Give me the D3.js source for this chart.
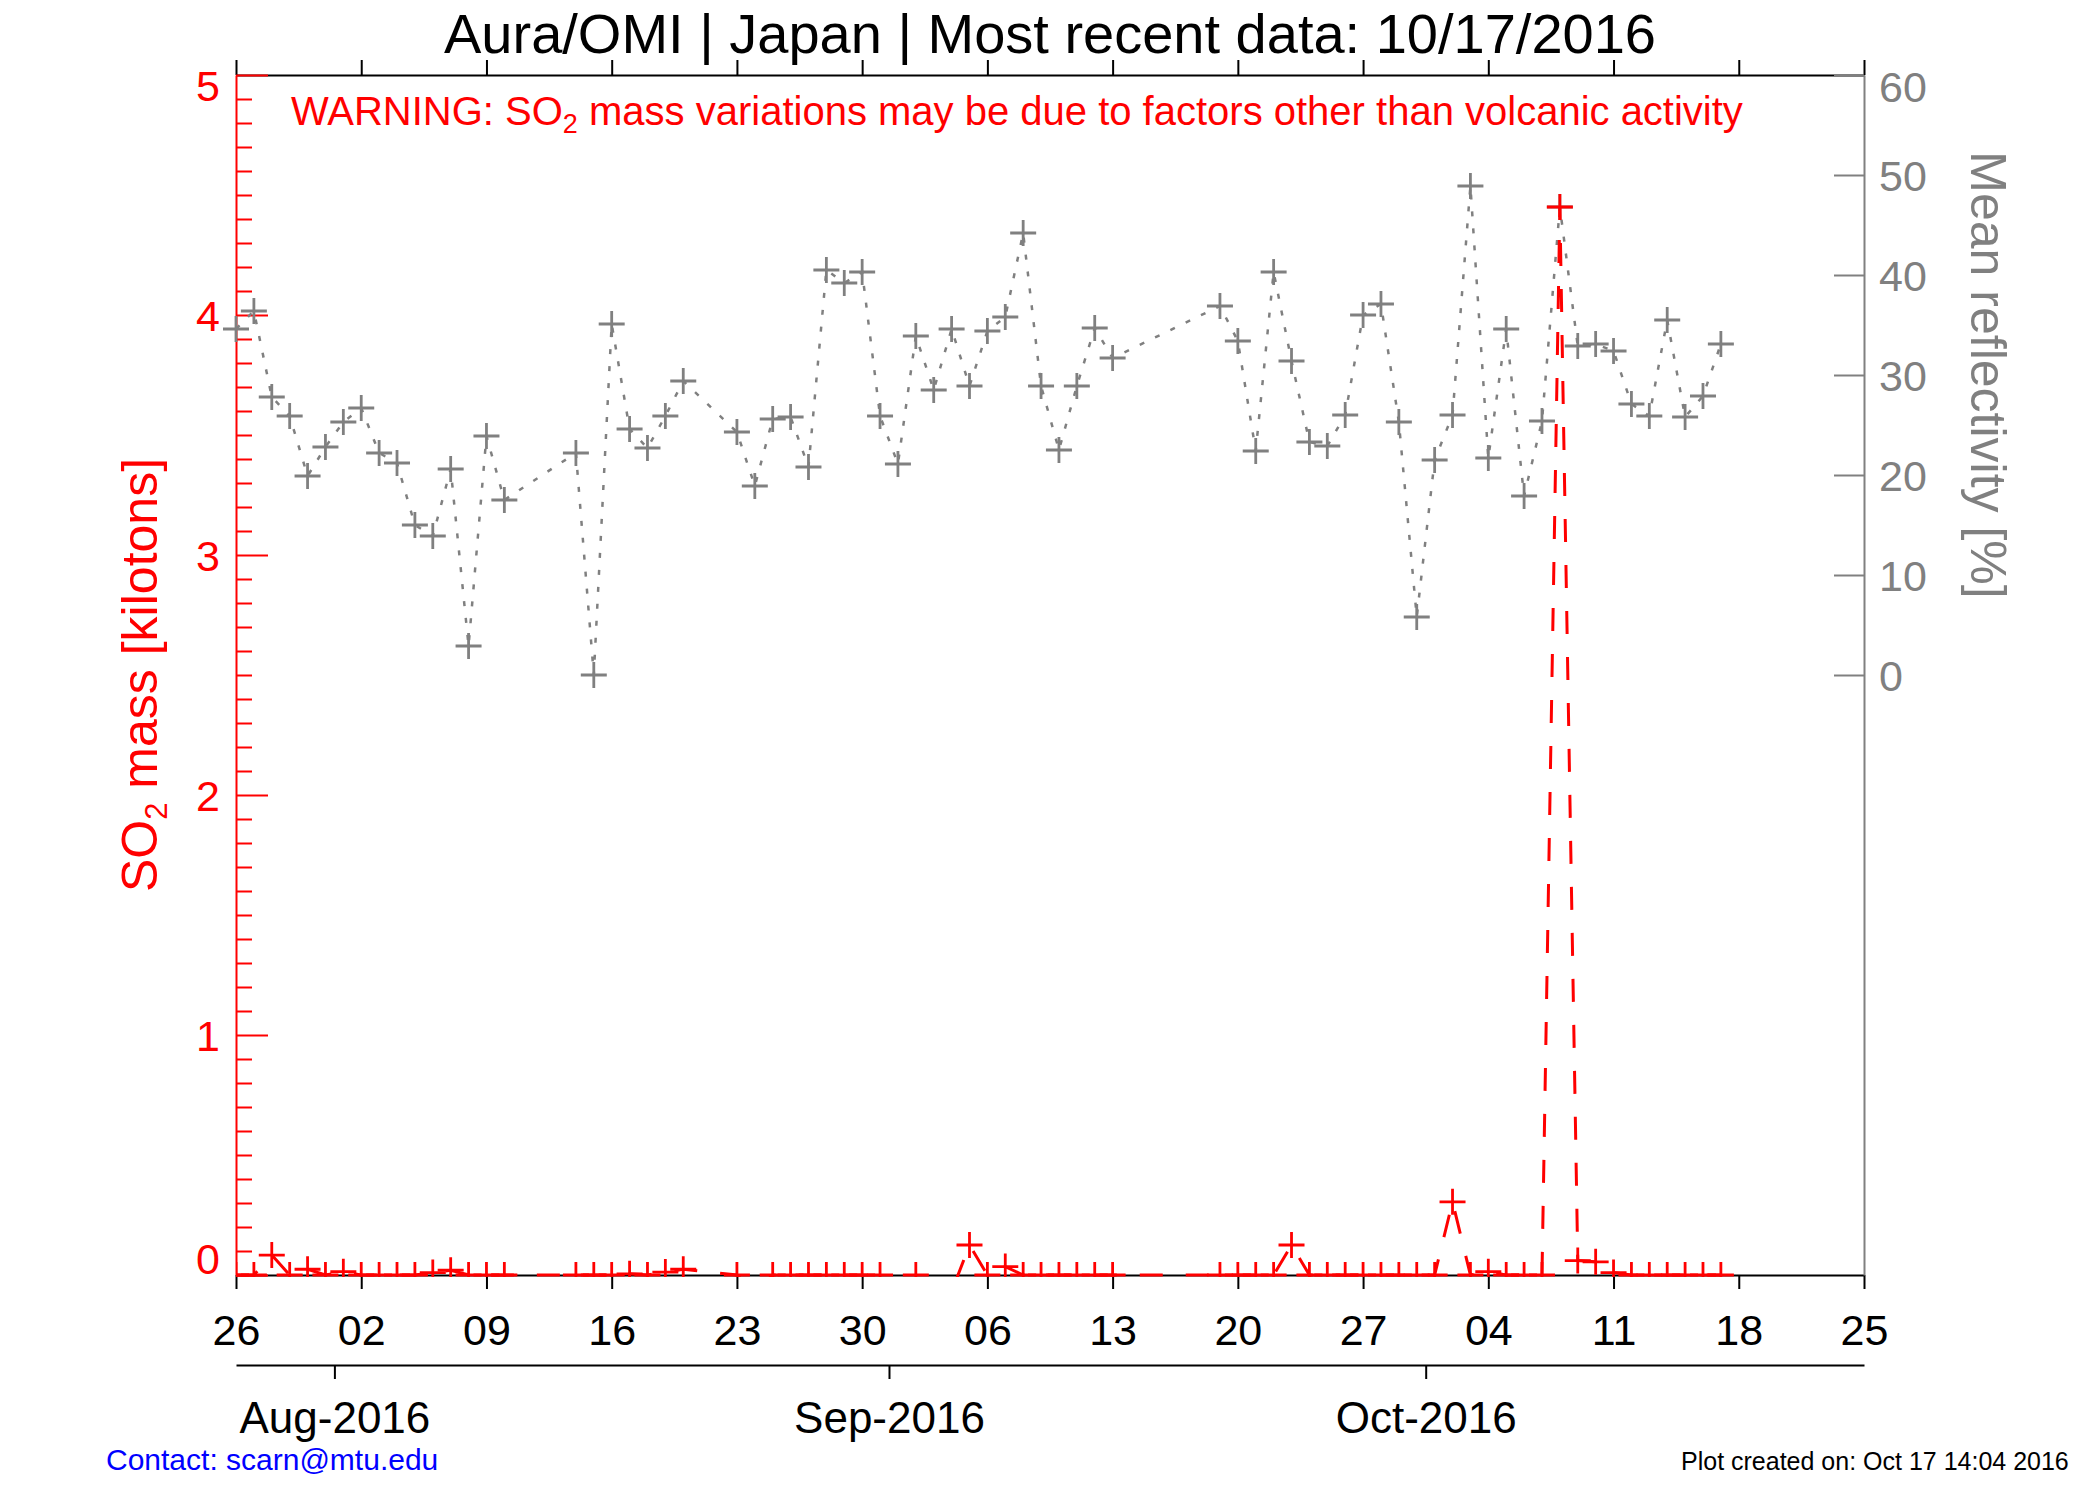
<!DOCTYPE html>
<html>
<head>
<meta charset="utf-8">
<script src="https://cdn.jsdelivr.net/npm/d3@7"></script>
<style>
html, body { margin: 0; padding: 0; background: #ffffff; }
svg text { font-family: "Liberation Sans", Arial, Helvetica, sans-serif; }
</style>
</head>
<body>
<svg id="chart" width="2100" height="1500"></svg>
<script>
// ---------------- DATA ----------------
const dates = [
  "2016-07-26","2016-07-27","2016-07-28","2016-07-29","2016-07-30","2016-07-31",
  "2016-08-01","2016-08-02","2016-08-03","2016-08-04","2016-08-05","2016-08-06",
  "2016-08-07","2016-08-08","2016-08-09","2016-08-10",
  "2016-08-14","2016-08-15","2016-08-16","2016-08-17","2016-08-18","2016-08-19","2016-08-20",
  "2016-08-23","2016-08-24","2016-08-25","2016-08-26","2016-08-27","2016-08-28","2016-08-29",
  "2016-08-30","2016-08-31","2016-09-01","2016-09-02","2016-09-03","2016-09-04","2016-09-05",
  "2016-09-06","2016-09-07","2016-09-08","2016-09-09","2016-09-10","2016-09-11","2016-09-12",
  "2016-09-13",
  "2016-09-19","2016-09-20","2016-09-21","2016-09-22","2016-09-23","2016-09-24","2016-09-25",
  "2016-09-26","2016-09-27","2016-09-28","2016-09-29","2016-09-30","2016-10-01","2016-10-02",
  "2016-10-03","2016-10-04","2016-10-05","2016-10-06","2016-10-07","2016-10-08","2016-10-09",
  "2016-10-10","2016-10-11","2016-10-12","2016-10-13","2016-10-14","2016-10-15","2016-10-16",
  "2016-10-17"
];

// SO2 mass [kilotons]
const so2Mass = [
  0, 0, 0.083, 0, 0.024, 0,
  0.014, 0, 0, 0, 0, 0.01,
  0.02, 0, 0, 0,
  0, 0, 0, 0.005, 0, 0.012, 0.024,
  0, -0.07, 0, 0, 0, 0, 0,
  0, 0, -0.07, 0, -0.07, -0.07, 0.125,
  0, 0.035, 0, 0, 0, 0, 0,
  0,
  0, 0, 0, 0, 0.125, 0, 0,
  0, 0, 0, 0, 0, 0, 0.305,
  0, 0.014, 0, 0, 0, 4.45, 0.06,
  0.055, 0.01, 0, 0, 0, 0, 0,
  0
];

// Mean reflectivity [%]
const reflectivity = [
  34.6, 36.4, 27.8, 25.9, 19.9, 22.8,
  25.3, 26.7, 22.2, 21.2, 15.0, 13.9,
  20.6, 2.9, 23.9, 17.5,
  22.2, 0.0, 35.1, 24.6, 22.7, 25.9, 29.4,
  24.3, 18.9, 25.6, 25.8, 20.8, 40.5, 39.2,
  40.3, 25.9, 21.1, 33.9, 28.5, 34.6, 28.9,
  34.4, 35.8, 44.2, 28.9, 22.5, 28.9, 34.7,
  31.7,
  36.9, 33.4, 22.4, 40.3, 31.4, 23.3, 22.9,
  26.0, 36.0, 37.1, 25.3, 5.8, 21.5, 26.0,
  48.9, 21.7, 34.6, 17.9, 25.4, 46.8, 32.9,
  33.1, 32.4, 27.1, 25.9, 35.5, 25.8, 27.9,
  33.1
];

const weekTicks = ["2016-07-26","2016-08-02","2016-08-09","2016-08-16","2016-08-23",
  "2016-08-30","2016-09-06","2016-09-13","2016-09-20","2016-09-27","2016-10-04",
  "2016-10-11","2016-10-18","2016-10-25"];
const monthTicks = ["2016-08-01","2016-09-01","2016-10-01"];
const leftTicks = [0, 1, 2, 3, 4, 5];
const rightTicks = [0, 10, 20, 30, 40, 50, 60];

const titleText = "Aura/OMI | Japan | Most recent data: 10/17/2016";

// ---------------- SETUP ----------------
const RED = "#ff0000", GRAY = "#808080", BLACK = "#000000";
const L = 236, R = 1864, T = 75, B = 1275;

const noon = s => new Date(s + "T12:00:00Z");
const midnight = s => new Date(s + "T00:00:00Z");

const x = d3.scaleUtc().domain([noon("2016-07-26"), noon("2016-10-25")]).range([L, R]);
const yL = d3.scaleLinear().domain([0, 5]).range([B, T]);
const yR = d3.scaleLinear().domain([-60, 60]).range([B, T]);

const svg = d3.select("#chart");
svg.append("rect").attr("width", 2100).attr("height", 1500).attr("fill", "#fff");

svg.append("defs").append("clipPath").attr("id", "plotclip")
  .append("rect").attr("x", L).attr("y", T).attr("width", R - L).attr("height", B - T + 2);

function styleAxis(g, color, width) {
  g.attr("font-family", null).attr("font-size", null);
  g.select(".domain").attr("stroke", color).attr("stroke-width", width);
  g.selectAll(".tick line").attr("stroke", color).attr("stroke-width", width);
}

// Title
svg.append("text").attr("x", 1050).attr("y", 53).attr("text-anchor", "middle")
  .attr("font-size", 56).attr("fill", BLACK).text(titleText);

// Warning
const warn = svg.append("text").attr("x", 291).attr("y", 125)
  .attr("font-size", 40).attr("fill", RED);
warn.append("tspan").text("WARNING: SO");
warn.append("tspan").attr("font-size", 27).attr("dy", 8).text("2");
warn.append("tspan").attr("dy", -8).text(" mass variations may be due to factors other than volcanic activity");

// Top axis
const gTop = svg.append("g").attr("transform", `translate(0,${T})`)
  .call(d3.axisTop(x).tickValues(weekTicks.map(noon)).tickSize(15).tickSizeOuter(0).tickFormat(""));
styleAxis(gTop, BLACK, 2);

// Bottom axis (weeks)
const gBot = svg.append("g").attr("transform", `translate(0,${B})`)
  .call(d3.axisBottom(x).tickValues(weekTicks.map(noon)).tickSize(14).tickSizeOuter(0)
    .tickFormat(d3.utcFormat("%d")));
styleAxis(gBot, BLACK, 2);
gBot.selectAll(".tick text").attr("y", 70).attr("dy", 0)
  .attr("font-size", 43).attr("fill", BLACK);

// Month axis
const gMon = svg.append("g").attr("transform", `translate(0,1365)`)
  .call(d3.axisBottom(x).tickValues(monthTicks.map(midnight)).tickSize(14).tickSizeOuter(0)
    .tickFormat(d3.utcFormat("%b-%Y")));
styleAxis(gMon, BLACK, 2);
gMon.selectAll(".tick text").attr("y", 68).attr("dy", 0)
  .attr("font-size", 44).attr("fill", BLACK);

// Left axis (SO2)
const minorLeft = d3.range(1, 50).filter(i => i % 10 !== 0).map(i => i / 10);
const gLminor = svg.append("g").attr("transform", `translate(${L},0)`)
  .call(d3.axisLeft(yL).tickValues(minorLeft).tickSizeInner(-16).tickSizeOuter(0).tickFormat(""));
styleAxis(gLminor, RED, 2);
gLminor.select(".domain").remove();

const gL = svg.append("g").attr("transform", `translate(${L},0)`)
  .call(d3.axisLeft(yL).tickValues(leftTicks).tickSizeInner(-32).tickSizeOuter(0).tickPadding(16)
    .tickFormat(d3.format("d")));
styleAxis(gL, RED, 2);
gL.selectAll(".tick text").attr("font-size", 43).attr("fill", RED)
  .attr("dy", d => d === 5 ? 25 : (d === 0 ? -2 : 15));

// Right axis (reflectivity)
const gR = svg.append("g").attr("transform", `translate(${R},0)`)
  .call(d3.axisRight(yR).tickValues(rightTicks).tickSizeInner(-30).tickSizeOuter(0).tickPadding(15)
    .tickFormat(d3.format("d")));
styleAxis(gR, GRAY, 2);
gR.selectAll(".tick text").attr("font-size", 43).attr("fill", GRAY)
  .attr("dy", d => d === 60 ? 26 : 15);

// Axis titles
const lt = svg.append("text").attr("transform", `translate(157,675) rotate(-90)`)
  .attr("text-anchor", "middle").attr("font-size", 50).attr("fill", RED);
lt.append("tspan").text("SO");
lt.append("tspan").attr("font-size", 31).attr("dy", 10).text("2");
lt.append("tspan").attr("dy", -10).text(" mass [kilotons]");

svg.append("text").attr("transform", `translate(1971,375) rotate(90)`)
  .attr("text-anchor", "middle").attr("font-size", 50).attr("fill", GRAY)
  .text("Mean reflectivity [%]");

// Footer
svg.append("text").attr("x", 106).attr("y", 1470).attr("font-size", 30).attr("fill", "#0000ff")
  .text("Contact: scarn@mtu.edu");
svg.append("text").attr("x", 1681).attr("y", 1470).attr("font-size", 25).attr("fill", BLACK)
  .text("Plot created on: Oct 17 14:04 2016");

// ---------------- DATA MARKS ----------------
const rows = dates.map((d, i) => ({ date: noon(d), so2: so2Mass[i], refl: reflectivity[i] }));
const plus = (cx, cy, h) => `M${cx - h},${cy}H${cx + h}M${cx},${cy - h}V${cy + h}`;

// Reflectivity (gray dotted)
const lineR = d3.line().x(d => x(d.date)).y(d => yR(d.refl));
svg.append("path").datum(rows).attr("d", lineR).attr("fill", "none")
  .attr("stroke", GRAY).attr("stroke-width", 2.5).attr("stroke-dasharray", "5,12");
svg.append("g").selectAll("path").data(rows).join("path")
  .attr("d", d => plus(x(d.date), yR(d.refl), 13))
  .attr("stroke", GRAY).attr("stroke-width", 2.8).attr("fill", "none");

// SO2 (red dashed)
const gRed = svg.append("g").attr("clip-path", "url(#plotclip)");
const lineS = d3.line().x(d => x(d.date)).y(d => yL(d.so2));
gRed.append("path").datum(rows).attr("d", lineS).attr("fill", "none")
  .attr("stroke", RED).attr("stroke-width", 3).attr("stroke-dasharray", "23,23");
gRed.selectAll("path.m").data(rows).join("path").attr("class", "m")
  .attr("d", d => plus(x(d.date), yL(d.so2), 13))
  .attr("stroke", RED).attr("stroke-width", 2.8).attr("fill", "none");
</script>
</body>
</html>
